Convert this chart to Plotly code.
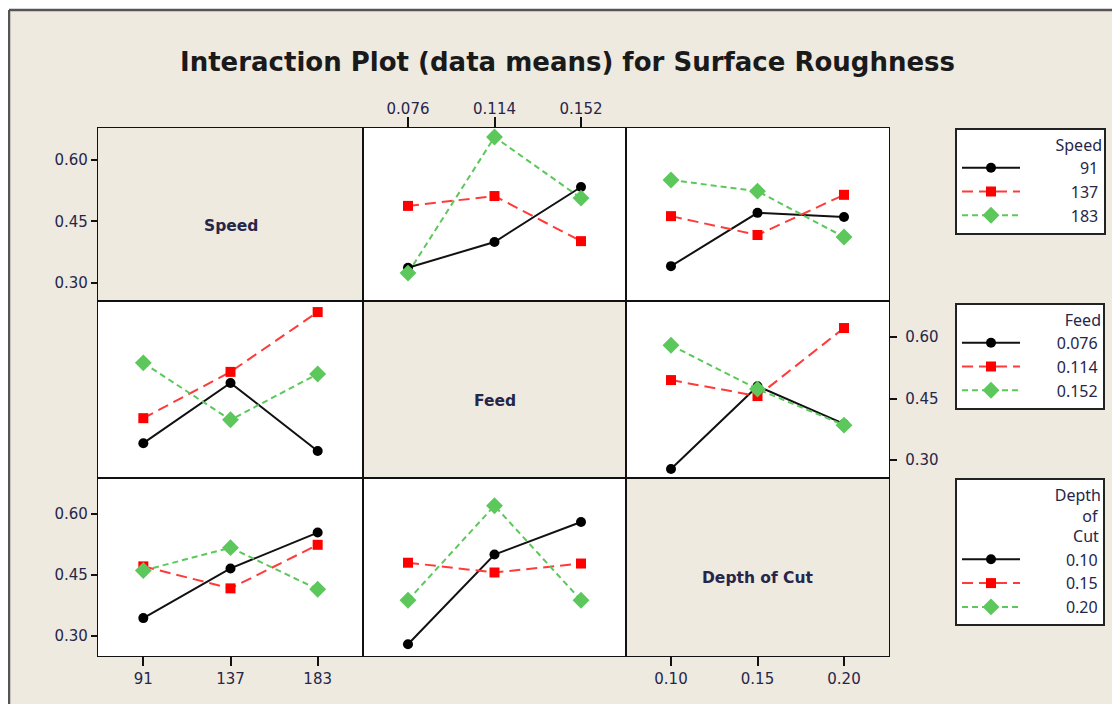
import plotly.graph_objects as go
from plotly.subplots import make_subplots

# ---------------- data ----------------
speed_levels = ["91", "137", "183"]
feed_levels = ["0.076", "0.114", "0.152"]
depth_levels = ["0.10", "0.15", "0.20"]

# mean surface roughness; each inner list = one line (level of the row factor)
speed_lines_vs_feed = [[0.337, 0.400, 0.534], [0.488, 0.512, 0.402], [0.324, 0.656, 0.507]]
speed_lines_vs_depth = [[0.341, 0.471, 0.461], [0.463, 0.417, 0.515], [0.551, 0.524, 0.412]]
feed_lines_vs_speed = [[0.341, 0.488, 0.322], [0.402, 0.515, 0.661], [0.537, 0.398, 0.510]]
feed_lines_vs_depth = [[0.278, 0.480, 0.388], [0.495, 0.456, 0.622], [0.580, 0.473, 0.385]]
depth_lines_vs_speed = [[0.344, 0.466, 0.554], [0.471, 0.417, 0.524], [0.461, 0.517, 0.415]]
depth_lines_vs_feed = [[0.280, 0.500, 0.580], [0.480, 0.456, 0.478], [0.388, 0.620, 0.388]]

y_tick_vals = [0.30, 0.45, 0.60]
y_tick_text = ["0.30", "0.45", "0.60"]

title_text = "Interaction Plot (data means) for Surface Roughness"
factor_names = ["Speed", "Feed", "Depth of Cut"]
legend_titles = ["Speed", "Feed", "Depth<br>\u2007\u2007\u2007of<br>\u2007\u2007Cut"]

# ---------------- geometry / styling ----------------
OFF = 8                      # page body margin
W, H = 1120 - OFF, 704 - OFF


def fx(px):
    return (px - OFF) / W


def fy(py):
    return 1 - (py - OFF) / H


BEIGE = "#EEEAE0"
TXT = "#26264a"
line_colors = ["#111111", "#FF3A3A", "#5CC85C"]
marker_colors = ["#000000", "#FF0000", "#5CC85C"]
dashes = ["solid", "11px,6px", "6px,4px"]
symbols = ["circle", "square", "diamond"]
msizes = [10, 10, 13]

col_px = [(98, 363), (363, 626), (626, 889)]
row_px = [(128, 301), (301, 478), (478, 656)]
row_ranges = [[0.256, 0.678], [0.256, 0.688], [0.251, 0.688]]
x_range = [-0.52, 2.52]


def pad(label, units=8.0):
    """right-align legend labels with figure / punctuation spaces"""
    w = sum(1.0 if ch.isdigit() else 0.465 for ch in label)
    rem = units - w
    s = ""
    while rem >= 0.97:
        s += "\u2007"
        rem -= 1.0
    if rem >= 0.4:
        s += "\u2008"
    return s + label


fig = make_subplots(rows=3, cols=3, horizontal_spacing=0, vertical_spacing=0)

panels = [
    (1, 2, speed_lines_vs_feed, feed_levels, speed_levels, "legend", True),
    (1, 3, speed_lines_vs_depth, depth_levels, speed_levels, "legend", False),
    (2, 1, feed_lines_vs_speed, speed_levels, feed_levels, "legend2", True),
    (2, 3, feed_lines_vs_depth, depth_levels, feed_levels, "legend2", False),
    (3, 1, depth_lines_vs_speed, speed_levels, depth_levels, "legend3", True),
    (3, 2, depth_lines_vs_feed, feed_levels, depth_levels, "legend3", False),
]

for r, c, lines, xcats, names, leg, show in panels:
    for i, ys in enumerate(lines):
        fig.add_trace(
            go.Scatter(
                x=xcats,
                y=ys,
                mode="lines+markers",
                name=pad(names[i]),
                legend=leg,
                showlegend=show,
                line=dict(color=line_colors[i], width=2, dash=dashes[i]),
                marker=dict(color=marker_colors[i], symbol=symbols[i], size=msizes[i]),
                hoverinfo="skip",
            ),
            row=r,
            col=c,
        )

col_cats = {1: speed_levels, 2: feed_levels, 3: depth_levels}
# empty placeholder traces so the diagonal panels (and their axes) are drawn
for k in range(1, 4):
    fig.add_trace(
        go.Scatter(x=col_cats[k], y=[None] * 3, mode="markers", showlegend=False,
                   hoverinfo="skip"),
        row=k, col=k,
    )

col_master = {1: "x7", 2: "x2", 3: "x3"}
tickfont = dict(family="DejaVu Sans", size=15, color=TXT)
LW = 1.3

for r in range(1, 4):
    for c in range(1, 4):
        n = (r - 1) * 3 + c
        xd = [fx(col_px[c - 1][0]), fx(col_px[c - 1][1])]
        yd = [fy(row_px[r - 1][1]), fy(row_px[r - 1][0])]
        xkw = dict(
            domain=xd, type="category", range=x_range, showgrid=False, zeroline=False,
            showline=True, mirror=True, linecolor="#111111", linewidth=LW,
            ticks="", showticklabels=False, automargin=False, fixedrange=True,
            categoryorder="array", categoryarray=col_cats[c],
        )
        if f"x{n}" != col_master[c]:
            xkw["matches"] = col_master[c]
        ykw = dict(
            domain=yd, range=row_ranges[r - 1], showgrid=False, zeroline=False,
            showline=True, mirror=True, linecolor="#111111", linewidth=LW,
            ticks="", showticklabels=False, automargin=False, fixedrange=True,
            tickvals=y_tick_vals, ticktext=y_tick_text,
        )
        if (r, c) == (1, 2):
            xkw.update(side="top", ticks="outside", ticklen=10, tickwidth=1.5,
                       tickcolor="#111", showticklabels=True, tickfont=tickfont,
                       ticklabelstandoff=-3)
        if (r, c) in [(3, 1), (3, 3)]:
            xkw.update(side="bottom", ticks="outside", ticklen=9, tickwidth=1.5,
                       tickcolor="#111", showticklabels=True, tickfont=tickfont)
        if (r, c) in [(1, 1), (3, 1)]:
            ykw.update(side="left", ticks="outside", ticklen=6, tickwidth=1.5,
                       tickcolor="#111", showticklabels=True, tickfont=tickfont)
        if (r, c) == (2, 3):
            ykw.update(side="right", ticks="outside", ticklen=7, tickwidth=1.5,
                       tickcolor="#111", showticklabels=True, tickfont=tickfont,
                       ticklabelstandoff=5)
        fig.update_xaxes(row=r, col=c, **xkw)
        fig.update_yaxes(row=r, col=c, **ykw)

shapes = []
annotations = []
for k in range(3):
    n = k * 4 + 1
    xr = "x" if n == 1 else f"x{n}"
    yr = "y" if n == 1 else f"y{n}"
    shapes.append(dict(type="rect", xref=f"{xr} domain", yref=f"{yr} domain",
                       x0=0, x1=1, y0=0, y1=1, fillcolor=BEIGE, line_width=0, layer="below"))
    annotations.append(dict(xref=f"{xr} domain", yref=f"{yr} domain", x=0.5, y=0.5,
                            xanchor="center", yanchor="middle", yshift=-11,
                            text=f"<b>{factor_names[k]}</b>", showarrow=False,
                            font=dict(family="DejaVu Sans", size=15.5, color=TXT)))

# white strip outside the framed figure + frame lines
shapes.append(dict(type="rect", xref="paper", yref="paper", x0=0, x1=1, y0=fy(10), y1=1,
                   fillcolor="white", line_width=0, layer="below"))
shapes.append(dict(type="rect", xref="paper", yref="paper", x0=0, x1=fx(9), y0=0, y1=1,
                   fillcolor="white", line_width=0, layer="below"))
shapes.append(dict(type="line", xref="paper", yref="paper", x0=fx(9), x1=1, y0=fy(10),
                   y1=fy(10), line=dict(color="#555555", width=2.5)))
shapes.append(dict(type="line", xref="paper", yref="paper", x0=fx(9), x1=fx(9), y0=0,
                   y1=fy(10), line=dict(color="#555555", width=2.5)))

annotations.append(dict(xref="paper", yref="paper", x=fx(567), y=fy(62),
                        xanchor="center", yanchor="middle",
                        text=f"<b>{title_text}</b>", showarrow=False,
                        font=dict(family="DejaVu Sans", size=26, color="#1a1a1a")))

legfont = dict(family="Noto Sans", size=16, color=TXT)


def leg(ytop, title):
    return dict(
        x=fx(955), y=fy(ytop), xanchor="left", yanchor="top",
        bgcolor="white", bordercolor="#222222", borderwidth=2,
        font=legfont, itemwidth=58, tracegroupgap=0,
        title=dict(text=title, side="top right", font=legfont),
    )


fig.update_layout(
    width=W, height=H,
    margin=dict(l=0, r=0, t=0, b=0),
    paper_bgcolor=BEIGE, plot_bgcolor="white",
    shapes=shapes, annotations=annotations,
    legend=leg(128, legend_titles[0]),
    legend2=leg(303, legend_titles[1]),
    legend3=leg(478, legend_titles[2]),
)

fig.write_html("out.html")
